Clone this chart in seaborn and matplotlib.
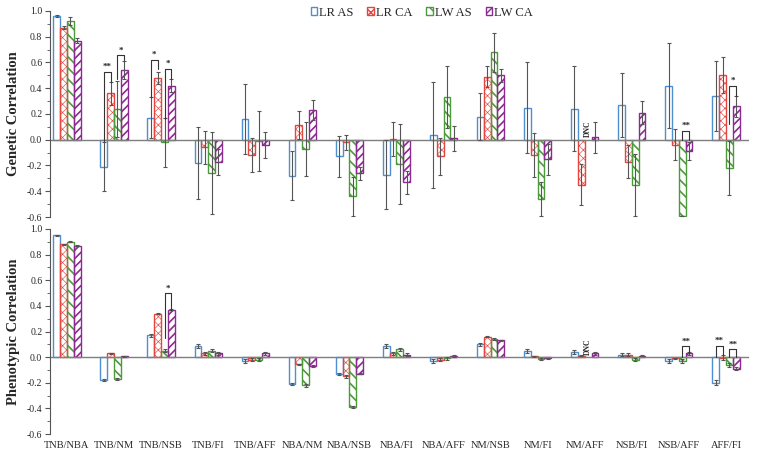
import numpy as np
import pandas as pd
import matplotlib
matplotlib.use("Agg")
import matplotlib.pyplot as plt
import seaborn as sns
from matplotlib.ticker import MultipleLocator, FormatStrFormatter

# categorias (pares de caracteres)
cats = ['TNB/NBA', 'TNB/NM', 'TNB/NSB', 'TNB/FI', 'TNB/AFF', 'NBA/NM', 'NBA/NSB',
        'NBA/FI', 'NBA/AFF', 'NM/NSB', 'NM/FI', 'NM/AFF', 'NSB/FI', 'NSB/AFF', 'AFF/FI']
groups = ['LR AS', 'LR CA', 'LW AS', 'LW CA']
nan = np.nan

# correlacion genetica
gen_lr_as = [0.96, -0.21, 0.17, -0.18, 0.16, -0.28, -0.13, -0.27, 0.035, 0.18, 0.25, 0.24, 0.27, 0.42, 0.34]
gen_lr_ca = [0.87, 0.36, 0.48, -0.06, -0.12, 0.117, -0.02, 0.005, -0.13, 0.49, -0.12, -0.35, -0.17, -0.04, 0.50]
gen_lw_as = [0.92, 0.24, -0.02, -0.26, -0.01, -0.07, -0.44, -0.19, 0.33, 0.68, -0.46, nan, -0.35, -0.59, -0.22]
gen_lw_ca = [0.77, 0.54, 0.42, -0.17, -0.04, 0.23, -0.26, -0.33, 0.01, 0.50, -0.15, 0.02, 0.21, -0.09, 0.26]
gen_err_lr_as = [0.01, 0.19, 0.16, 0.28, 0.27, 0.19, 0.16, 0.27, 0.41, 0.18, 0.35, 0.33, 0.25, 0.33, 0.27]
gen_err_lr_ca = [0.01, 0.09, 0.05, 0.13, 0.13, 0.11, 0.06, 0.13, 0.14, 0.08, 0.17, 0.16, 0.13, 0.12, 0.14]
gen_err_lw_as = [0.03, 0.22, 0.19, 0.32, 0.23, 0.21, 0.15, 0.31, 0.24, 0.15, 0.13, nan, 0.24, 0.0, 0.21]
gen_err_lw_ca = [0.02, 0.07, 0.05, 0.10, 0.10, 0.08, 0.05, 0.09, 0.10, 0.05, 0.12, 0.12, 0.09, 0.07, 0.08]

# correlacion fenotipica
phe_lr_as = [0.95, -0.18, 0.17, 0.09, -0.03, -0.21, -0.13, 0.09, -0.03, 0.10, 0.05, 0.04, 0.02, -0.03, -0.20]
phe_lr_ca = [0.88, 0.03, 0.34, 0.03, -0.02, -0.055, -0.15, 0.03, -0.02, 0.16, 0.005, 0.01, 0.02, -0.01, -0.005]
phe_lw_as = [0.90, -0.17, 0.05, 0.05, -0.02, -0.22, -0.39, 0.06, -0.01, 0.14, -0.015, nan, -0.02, -0.03, -0.06]
phe_lw_ca = [0.87, 0.005, 0.37, 0.03, 0.03, -0.07, -0.13, 0.02, 0.01, 0.13, -0.01, 0.03, 0.01, 0.03, -0.09]
phe_err_lr_as = [0.004, 0.01, 0.01, 0.015, 0.015, 0.01, 0.01, 0.015, 0.015, 0.01, 0.015, 0.015, 0.015, 0.015, 0.02]
phe_err_lr_ca = [0.004, 0.005, 0.005, 0.01, 0.01, 0.005, 0.01, 0.01, 0.01, 0.005, 0.005, 0.005, 0.01, 0.005, 0.02]
phe_err_lw_as = [0.004, 0.01, 0.01, 0.01, 0.01, 0.01, 0.005, 0.015, 0.01, 0.01, 0.01, nan, 0.01, 0.015, 0.015]
phe_err_lw_ca = [0.004, 0.005, 0.005, 0.01, 0.01, 0.005, 0.005, 0.01, 0.01, 0.005, 0.005, 0.01, 0.005, 0.01, 0.01]

# significancia: categoria, grupo1, grupo2, altura, pata1, pata2, etiqueta
gen_sig = [('TNB/NM', 'LR AS', 'LR CA', 0.53, -0.01, 0.45, '**'),
           ('TNB/NM', 'LW AS', 'LW CA', 0.655, 0.47, 0.62, '*'),
           ('TNB/NSB', 'LR AS', 'LR CA', 0.62, 0.33, 0.55, '*'),
           ('TNB/NSB', 'LW AS', 'LW CA', 0.55, 0.16, 0.47, '*'),
           ('NSB/AFF', 'LW AS', 'LW CA', 0.07, 0.0, 0.0, '**'),
           ('AFF/FI', 'LW AS', 'LW CA', 0.42, 0.12, 0.34, '*')]
phe_sig = [('TNB/NSB', 'LW AS', 'LW CA', 0.50, 0.15, 0.37, '*'),
           ('NSB/AFF', 'LW AS', 'LW CA', 0.085, 0.0, 0.03, '**'),
           ('AFF/FI', 'LR AS', 'LR CA', 0.09, 0.0, 0.02, '**'),
           ('AFF/FI', 'LW AS', 'LW CA', 0.06, 0.0, 0.0, '**')]

colors = {'LR AS': '#4f8fcf', 'LR CA': '#e2463f', 'LW AS': '#4c9a3c', 'LW CA': '#8b2a8f'}
hatches = {'LR AS': ':::', 'LR CA': 'xxxx', 'LW AS': '\\\\\\', 'LW CA': '////'}
hatch_lw = {'LR AS': 0.8, 'LR CA': 0.45, 'LW AS': 1.2, 'LW CA': 1.2}


def long_df(vals, errs):
    rows = []
    for g, v, e in zip(groups, vals, errs):
        for c, vi, ei in zip(cats, v, e):
            rows.append({'pair': c, 'group': g, 'r': vi, 'se': ei})
    return pd.DataFrame(rows)


def style_patch(p, g):
    p.set_hatch(hatches[g])
    p.set_edgecolor(colors[g])
    if hasattr(p, 'set_hatchcolor'):
        p.set_hatchcolor(colors[g])
    if hasattr(p, 'set_hatch_linewidth'):
        p.set_hatch_linewidth(hatch_lw[g])


gen_df = long_df([gen_lr_as, gen_lr_ca, gen_lw_as, gen_lw_ca],
                 [gen_err_lr_as, gen_err_lr_ca, gen_err_lw_as, gen_err_lw_ca])
phe_df = long_df([phe_lr_as, phe_lr_ca, phe_lw_as, phe_lw_ca],
                 [phe_err_lr_as, phe_err_lr_ca, phe_err_lw_as, phe_err_lw_ca])

sns.set_style("white")
plt.rcParams['font.family'] = ['Liberation Serif', 'DejaVu Serif']
plt.rcParams['axes.unicode_minus'] = False
plt.rcParams['hatch.linewidth'] = 1.0

fig = plt.figure(figsize=(7.6, 4.58), dpi=100)
ax1 = fig.add_axes([0.0658, 0.5262, 0.9197, 0.4498])
ax2 = fig.add_axes([0.0658, 0.0524, 0.9197, 0.4476])


def draw(ax, df, sig, ylabel):
    sns.barplot(data=df, x='pair', y='r', hue='group', order=cats, hue_order=groups,
                palette=colors, fill=False, width=0.58, errorbar=None, legend=False,
                linewidth=1.0, ax=ax)
    pos = {}
    for g, cont in zip(groups, ax.containers):
        for p in cont:
            if np.isnan(p.get_height()):
                continue
            xc = p.get_x() + p.get_width() / 2
            pos[(cats[int(round(xc))], g)] = xc
            style_patch(p, g)
    offs = {g: pos[(cats[0], g)] for g in groups}
    for _, row in df.dropna().iterrows():
        xc = pos[(row['pair'], row['group'])]
        ax.errorbar(xc, row['r'], yerr=row['se'], fmt='none', ecolor='#555555',
                    elinewidth=0.8, capsize=1.6, capthick=0.8, zorder=3)
    for c, g1, g2, top, y1, y2, lab in sig:
        x1, x2 = pos[(c, g1)], pos[(c, g2)]
        ax.plot([x1, x1, x2, x2], [y1, top, top, y2], color='#333333', lw=0.8, zorder=4)
        ax.text((x1 + x2) / 2, top + 0.005, lab, ha='center', va='bottom',
                fontsize=6.5, fontweight='bold')
    # sin datos para LW AS en NM/AFF
    ax.text(cats.index('NM/AFF') + offs['LW AS'], 0.02, 'DNC', rotation=90,
            ha='center', va='bottom', fontsize=5.5, fontweight='bold')

    ax.axhline(0, color='#7f7f7f', lw=1.0, zorder=1)
    ax.set_xlim(-0.36, 14.49)
    ax.set_ylim(-0.6, 1.0)
    for s in ['top', 'right', 'bottom']:
        ax.spines[s].set_visible(False)
    ax.spines['left'].set_color('#555555')
    ax.spines['left'].set_linewidth(0.8)
    ax.yaxis.set_major_locator(MultipleLocator(0.2))
    ax.yaxis.set_minor_locator(MultipleLocator(0.1))
    ax.yaxis.set_major_formatter(FormatStrFormatter('%.1f'))
    ax.tick_params(axis='y', which='major', direction='out', length=3.5, width=0.8,
                   color='#555555', labelsize=7, pad=2, left=True)
    ax.tick_params(axis='y', which='minor', direction='out', length=2, width=0.6,
                   color='#555555', left=True)
    ax.tick_params(axis='x', length=0, labelsize=7.5, pad=5)
    ax.set_xlabel('')
    ax.set_ylabel(ylabel, fontsize=10.5, fontweight='bold')
    ax.yaxis.set_label_coords(-0.043, 0.5)
    return pos


draw(ax1, gen_df, gen_sig, 'Genetic Correlation')
draw(ax2, phe_df, phe_sig, 'Phenotypic Correlation')
ax1.set_xticklabels([])

handles = []
for g in groups:
    h = plt.Rectangle((0, 0), 1, 1, facecolor='none', lw=1.0)
    style_patch(h, g)
    handles.append(h)
fig.legend(handles, groups, loc='upper center', bbox_to_anchor=(0.555, 1.01), ncol=4,
           frameon=False, fontsize=9, handlelength=0.55, handleheight=0.55,
           handletextpad=0.15, columnspacing=1.1)

fig.savefig('out.png', dpi=100)
